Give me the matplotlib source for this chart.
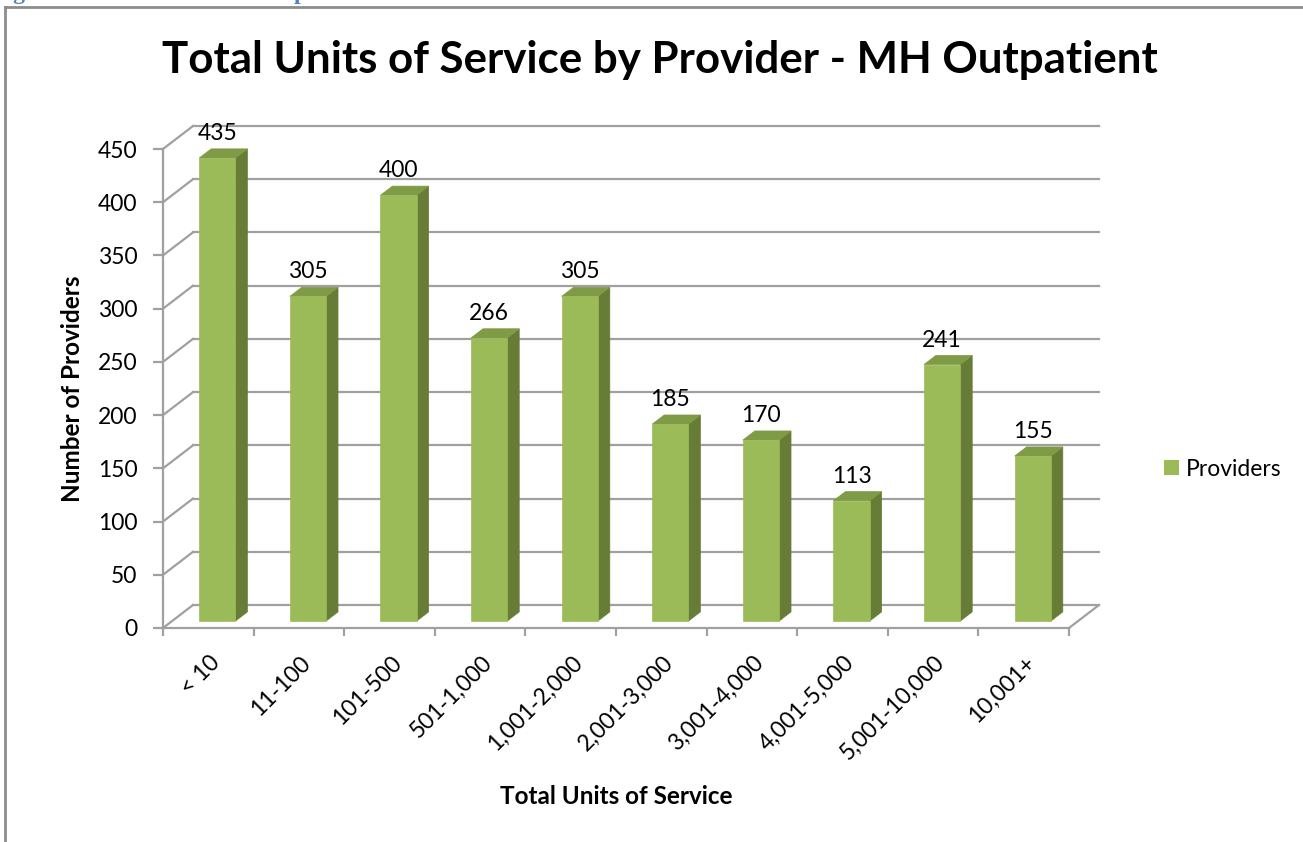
import matplotlib
matplotlib.use("Agg")
import matplotlib.pyplot as plt
from matplotlib.lines import Line2D
from matplotlib.patches import Patch, Polygon
from matplotlib.transforms import offset_copy

categories = ["< 10", "11-100", "101-500", "501-1,000", "1,001-2,000",
              "2,001-3,000", "3,001-4,000", "4,001-5,000", "5,001-10,000", "10,001+"]
providers = [435, 305, 400, 266, 305, 185, 170, 113, 241, 155]
y_ticks = list(range(0, 451, 50))

W, H, DPI = 1303, 842, 100
FRONT = "#9BBB59"
SIDE = "#677D37"
TOP = "#7F9B46"
GRID = "#A0A0A0"

plt.rcParams["font.family"] = ["Lato", "DejaVu Sans"]

fig = plt.figure(figsize=(W / DPI, H / DPI), dpi=DPI)
ax = fig.add_axes([163 / W, 1 - 628 / H, 906 / W, 479 / H])
n = len(categories)
ax.set_xlim(-0.5, n - 0.5)
ax.set_ylim(0, 450)

# oblique depth of the floor / back wall, expressed in data units
DX = 30 / (906 / n)
DY = 23 / (479 / 450)


def back(x, y, f):
    return (x + f * DX, y + f * DY)


# back wall, left wall and floor lines
for v in y_ticks:
    x0, y0 = back(-0.5, v, 1)
    x1, y1 = back(n - 0.5, v, 1)
    ax.plot([x0, x1], [y0, y1], color=GRID, lw=1.6, clip_on=False, zorder=1)
    ax.plot([-0.5, x0], [v, y0], color=GRID, lw=1.6, clip_on=False, zorder=1)
xr, yr = back(n - 0.5, 0, 1)
ax.plot([n - 0.5, xr], [0, yr], color=GRID, lw=1.6, clip_on=False, zorder=1)

# 3-D looking bars: front, side and top faces
hw = 0.2
for i, v in enumerate(providers):
    a, b = i - hw, i + hw
    front = [back(a, 0, .3), back(b, 0, .3), back(b, v, .3), back(a, v, .3)]
    side = [back(b, 0, .3), back(b, 0, .7), back(b, v, .7), back(b, v, .3)]
    top = [back(a, v, .3), back(b, v, .3), back(b, v, .7), back(a, v, .7)]
    for pts, col in ((side, SIDE), (top, TOP), (front, FRONT)):
        ax.add_patch(Polygon(pts, closed=True, facecolor=col, edgecolor=col,
                             lw=0.5, clip_on=False, zorder=3))
    lx, ly = back(i, v, .3)
    ax.text(lx, ly, str(v), ha="center", va="baseline", fontsize=16.5,
            transform=offset_copy(ax.transData, fig=fig, x=0, y=18, units="dots"),
            zorder=4)

# category labels, rotated under the floor
lab_tr = offset_copy(ax.transData, fig=fig, x=1, y=-24, units="dots")
for i, cat in enumerate(categories):
    ax.text(i, 0, cat, rotation=45, ha="right", va="top", rotation_mode="anchor",
            fontsize=16.5, transform=lab_tr)

ax.set_yticks(y_ticks)
ax.set_xticks([k - 0.5 for k in range(n + 1)])
ax.set_xticklabels([])
ax.tick_params(axis="y", length=7, width=1.6, color=GRID, pad=11.5, labelsize=16.5)
ax.tick_params(axis="x", length=6, width=1.6, color=GRID)
for s in ("top", "right"):
    ax.spines[s].set_visible(False)
for s in ("left", "bottom"):
    ax.spines[s].set_color(GRID)
    ax.spines[s].set_linewidth(1.6)
ax.patch.set_visible(False)

fig.text(660 / W, 1 - 73 / H, "Total Units of Service by Provider - MH Outpatient",
         ha="center", va="baseline", fontsize=31.6, fontweight="bold")
fig.text(73 / W, 1 - 389 / H, "Number of Providers", rotation=90,
         ha="center", va="center", fontsize=17.5, fontweight="bold")
fig.text(616 / W, 1 - 796 / H, "Total Units of Service",
         ha="center", va="center", fontsize=17.5, fontweight="bold")

fig.legend(handles=[Patch(facecolor=FRONT, label="Providers")], loc="center left",
           bbox_to_anchor=(1164 / W, 1 - 469 / H), frameon=False, fontsize=16.5,
           handlelength=0.66, handleheight=0.66, handletextpad=0.3,
           borderpad=0, borderaxespad=0)

# document caption above the chart (mostly cut off) and chart frame
fig.text(-8 / W, 1 + 1 / H, "Figure 14: Mental Health Outpatient Units of Service",
         ha="left", va="baseline", fontsize=17, fontweight="bold",
         color="#4F81BD", family=["Liberation Serif", "DejaVu Serif"])
fig.add_artist(Line2D([5 / W, 5 / W], [0, 1 - 7 / H], transform=fig.transFigure,
                      color="#8C8C8C", lw=2))
fig.add_artist(Line2D([5 / W, 1], [1 - 7 / H, 1 - 7 / H], transform=fig.transFigure,
                      color="#8C8C8C", lw=2))

fig.savefig("out.png", dpi=DPI)
